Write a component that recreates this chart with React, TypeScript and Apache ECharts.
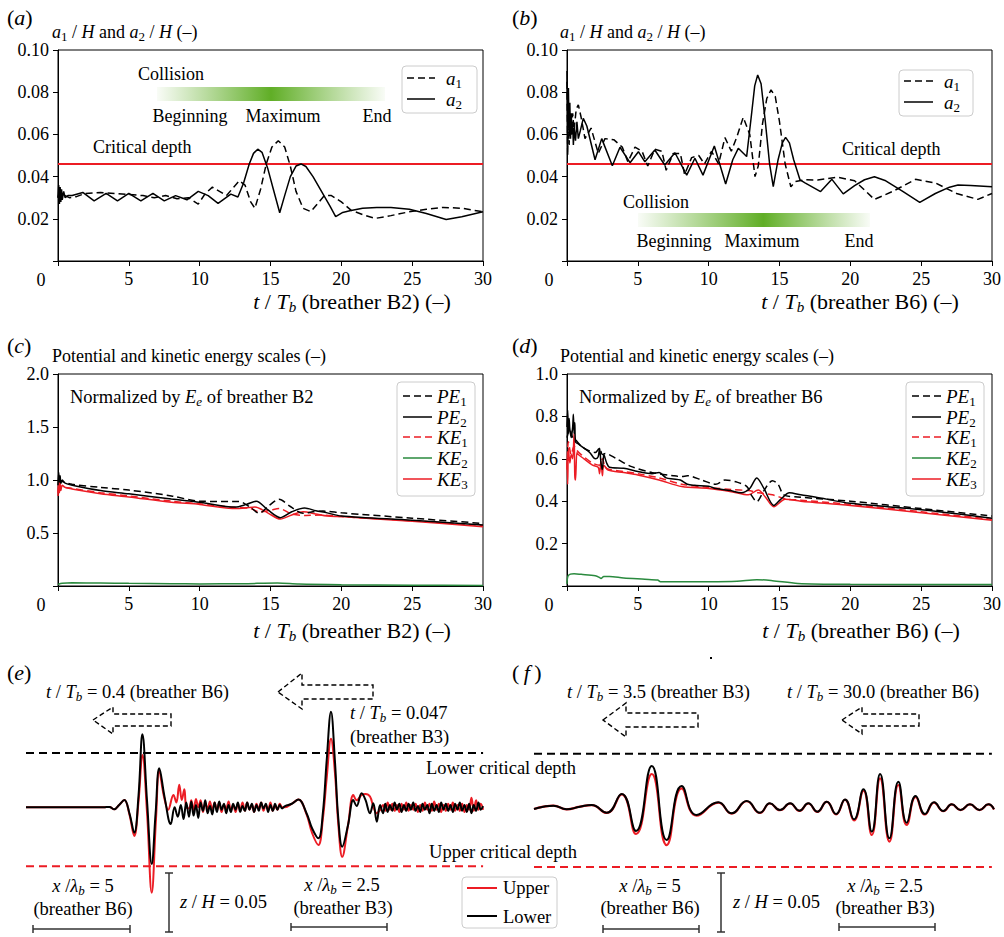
import React, { useEffect, useRef } from "react";
import * as echarts from "echarts";

const FONT = "Liberation Serif";
const RED = "#ec1c24";
const GREEN = "#2a8a3e";

// ---------- Panel (a): breather B2, a1/H (dashed) and a2/H (solid) ----------
const aT1 = [0, 0.1, 0.2, 0.3, 0.5, 0.8, 1.3, 1.9, 3.0, 4.0, 5.0, 6.0, 6.8, 7.6, 8.4, 9.2, 9.9, 10.4, 10.9, 11.4, 11.9, 12.4, 12.8, 13.2, 13.6, 13.9, 14.3, 14.7, 15.1, 15.55, 16.0, 16.4, 16.8, 17.3, 17.85, 18.3, 18.8, 19.3, 20.0, 20.7, 21.5, 22.4, 23.5, 24.7, 26.0, 27.2, 28.5, 30];
const aA1 = [0.030, 0.033, 0.029, 0.031, 0.031, 0.030, 0.0305, 0.032, 0.0325, 0.032, 0.0315, 0.031, 0.030, 0.031, 0.0295, 0.030, 0.027, 0.032, 0.035, 0.033, 0.031, 0.035, 0.038, 0.036, 0.028, 0.025, 0.034, 0.046, 0.054, 0.057, 0.054, 0.045, 0.033, 0.025, 0.0234, 0.027, 0.031, 0.031, 0.028, 0.024, 0.022, 0.0202, 0.0215, 0.0232, 0.0245, 0.0254, 0.025, 0.0233];
const aT2 = [0, 0.05, 0.1, 0.15, 0.2, 0.25, 0.3, 0.4, 0.5, 0.7, 1.0, 1.75, 2.55, 3.4, 4.2, 5.0, 5.85, 6.7, 7.5, 8.3, 9.1, 9.9, 10.6, 11.3, 12.2, 12.7, 13.1, 13.5, 13.8, 14.1, 14.4, 14.8, 15.2, 15.65, 16.0, 16.4, 16.8, 17.15, 17.5, 18.0, 18.6, 19.2, 19.6, 20.1, 20.6, 21.5, 22.5, 23.5, 24.8, 26.0, 27.4, 28.5, 30];
const aA2 = [0.030, 0.036, 0.027, 0.035, 0.028, 0.034, 0.029, 0.033, 0.030, 0.031, 0.031, 0.0325, 0.0285, 0.032, 0.0285, 0.032, 0.0285, 0.032, 0.0285, 0.031, 0.029, 0.033, 0.031, 0.0273, 0.0317, 0.0303, 0.037, 0.046, 0.051, 0.053, 0.0515, 0.044, 0.034, 0.0229, 0.031, 0.040, 0.045, 0.046, 0.0448, 0.040, 0.033, 0.026, 0.021, 0.023, 0.0238, 0.025, 0.0254, 0.0253, 0.0245, 0.0225, 0.0197, 0.021, 0.0233];

// ---------- Panel (b): breather B6 ----------
const bT1 = [0, 0.05, 0.1, 0.15, 0.2, 0.3, 0.4, 0.5, 0.65, 0.8, 1.0, 1.27, 1.7, 2.21, 2.68, 3.3, 3.9, 4.3, 4.8, 5.3, 5.7, 6.2, 6.7, 7.0, 7.5, 8.0, 8.3, 8.8, 9.3, 9.7, 10.2, 10.7, 11.15, 11.6, 12.0, 12.44, 12.9, 13.27, 13.5, 13.8, 14.1, 14.4, 14.7, 15.0, 15.4, 15.8, 16.1, 16.8, 17.7, 19.1, 20.3, 21.7, 23.0, 24.6, 26.0, 27.5, 29.0, 30];
const bA1 = [0.085, 0.050, 0.072, 0.055, 0.066, 0.060, 0.070, 0.062, 0.072, 0.074, 0.068, 0.058, 0.063, 0.051, 0.058, 0.0575, 0.054, 0.047, 0.054, 0.052, 0.045, 0.053, 0.052, 0.043, 0.051, 0.051, 0.041, 0.049, 0.050, 0.046, 0.052, 0.046, 0.0585, 0.052, 0.059, 0.0681, 0.060, 0.040, 0.045, 0.065, 0.077, 0.0811, 0.078, 0.066, 0.046, 0.0352, 0.0376, 0.0385, 0.0384, 0.0397, 0.038, 0.0292, 0.033, 0.0387, 0.037, 0.032, 0.0292, 0.032];
const bT2 = [0, 0.05, 0.1, 0.15, 0.2, 0.25, 0.3, 0.35, 0.4, 0.45, 0.5, 0.6, 0.7, 0.8, 0.95, 1.15, 1.4, 1.98, 2.45, 3.2, 3.74, 4.45, 5.04, 5.5, 6.2, 6.9, 7.62, 8.45, 9.03, 9.6, 10.4, 11.2, 11.7, 12.09, 12.68, 13.0, 13.25, 13.46, 13.7, 14.0, 14.3, 14.56, 14.9, 15.2, 15.43, 15.7, 16.0, 16.45, 16.8, 17.9, 18.7, 19.5, 20.3, 21.0, 21.7, 22.5, 23.7, 24.9, 26.0, 27.0, 27.6, 28.5, 30];
const bA2 = [0.090, 0.065, 0.082, 0.060, 0.075, 0.058, 0.070, 0.060, 0.065, 0.055, 0.063, 0.057, 0.066, 0.058, 0.062, 0.0676, 0.064, 0.048, 0.058, 0.0451, 0.0539, 0.0466, 0.0518, 0.047, 0.0526, 0.0455, 0.0513, 0.0407, 0.0487, 0.0407, 0.0545, 0.0365, 0.048, 0.0534, 0.0495, 0.068, 0.083, 0.0882, 0.084, 0.066, 0.046, 0.0352, 0.048, 0.056, 0.0586, 0.056, 0.048, 0.0384, 0.037, 0.0329, 0.0387, 0.0318, 0.0357, 0.0385, 0.0399, 0.038, 0.033, 0.0278, 0.032, 0.035, 0.036, 0.0358, 0.0352];
const CRITICAL = 0.046;

// ---------- Panel (c): energies, breather B2 ----------
const cT_PE1 = [0, 0.1, 0.3, 1, 3, 5, 8, 10, 12.8, 13.6, 14.2, 14.9, 15.6, 16.4, 17.3, 18.0, 18.7, 20, 25, 30];
const cPE1 = [1.0, 1.0, 0.985, 0.96, 0.93, 0.905, 0.85, 0.80, 0.796, 0.74, 0.686, 0.76, 0.818, 0.75, 0.686, 0.70, 0.707, 0.69, 0.64, 0.59];
const cT_PE2 = [0, 0.05, 0.1, 0.15, 0.2, 0.3, 0.5, 1, 3, 5, 8, 10, 12.5, 13.3, 14.0, 14.8, 15.7, 16.5, 17.4, 18.2, 19, 20, 25, 30];
const cPE2 = [0.95, 1.07, 0.98, 1.04, 0.97, 1.0, 0.97, 0.95, 0.90, 0.87, 0.82, 0.79, 0.745, 0.77, 0.80, 0.72, 0.645, 0.70, 0.735, 0.71, 0.69, 0.66, 0.62, 0.575];
const cT_KE1 = [0, 0.1, 0.2, 0.5, 1, 3, 5, 8, 10, 12.5, 13.5, 14.2, 15.0, 15.6, 16.5, 17.5, 18.5, 20, 25, 30];
const cKE1 = [0.88, 0.98, 0.92, 0.93, 0.92, 0.88, 0.85, 0.80, 0.775, 0.74, 0.735, 0.70, 0.715, 0.73, 0.68, 0.665, 0.67, 0.655, 0.615, 0.57];
const cT_KE2 = [0, 0.3, 1, 3, 5, 8, 10, 13, 15.5, 17, 20, 25, 30];
const cKE2 = [0.015, 0.025, 0.03, 0.028, 0.025, 0.022, 0.02, 0.022, 0.028, 0.018, 0.012, 0.008, 0.005];
const cT_KE3 = [0, 0.05, 0.1, 0.15, 0.2, 0.3, 0.5, 1, 3, 5, 8, 10, 12.5, 13.2, 13.9, 14.8, 15.7, 16.5, 17.3, 18.2, 19, 20, 25, 30];
const cKE3 = [0.85, 1.0, 0.88, 0.97, 0.90, 0.95, 0.93, 0.915, 0.87, 0.84, 0.79, 0.77, 0.73, 0.735, 0.745, 0.69, 0.632, 0.67, 0.70, 0.68, 0.66, 0.655, 0.61, 0.56];

// ---------- Panel (d): energies, breather B6 ----------
const dT_PE1 = [0, 0.2, 0.4, 0.6, 1.0, 1.5, 2.0, 2.3, 2.5, 2.7, 3.5, 4.56, 6.0, 7.5, 8.1, 8.5, 9.5, 10.5, 11.15, 12.0, 12.7, 13.0, 13.4, 13.9, 14.5, 14.9, 15.3, 16.3, 20, 25, 30];
const dPE1 = [0.70, 0.74, 0.70, 0.69, 0.66, 0.64, 0.63, 0.65, 0.62, 0.625, 0.60, 0.563, 0.535, 0.52, 0.516, 0.52, 0.50, 0.48, 0.50, 0.49, 0.469, 0.43, 0.398, 0.45, 0.497, 0.48, 0.43, 0.42, 0.40, 0.365, 0.33];
const dT_PE2 = [0, 0.05, 0.1, 0.15, 0.2, 0.3, 0.4, 0.45, 0.5, 0.55, 0.6, 0.8, 1.2, 1.6, 2.0, 2.2, 2.3, 2.4, 2.5, 2.6, 2.8, 3.0, 4.0, 5.0, 6.0, 6.5, 7.0, 7.5, 8.0, 8.5, 9.0, 10.0, 10.5, 11.5, 12.3, 12.9, 13.4, 13.9, 14.6, 15.1, 15.7, 16.5, 17.5, 20, 25, 30];
const dPE2 = [0.75, 0.83, 0.72, 0.79, 0.74, 0.70, 0.75, 0.81, 0.72, 0.77, 0.68, 0.67, 0.65, 0.63, 0.60, 0.61, 0.65, 0.58, 0.55, 0.62, 0.58, 0.56, 0.555, 0.54, 0.53, 0.535, 0.51, 0.505, 0.50, 0.48, 0.475, 0.47, 0.46, 0.45, 0.44, 0.46, 0.51, 0.46, 0.38, 0.41, 0.44, 0.43, 0.42, 0.39, 0.36, 0.32];
const dT_KE1 = [0, 0.1, 0.3, 0.5, 0.7, 1.0, 1.8, 2.3, 2.5, 2.7, 3.0, 4.0, 5.0, 6.5, 8.1, 10, 11.6, 12.8, 13.5, 14.5, 15.5, 16.5, 20, 25, 30];
const dKE1 = [0.55, 0.68, 0.62, 0.66, 0.64, 0.62, 0.58, 0.57, 0.60, 0.56, 0.55, 0.54, 0.53, 0.51, 0.48, 0.465, 0.455, 0.45, 0.44, 0.43, 0.41, 0.405, 0.385, 0.35, 0.315];
const dT_KE2 = [0, 0.1, 0.5, 1.0, 2.0, 2.3, 2.4, 2.6, 3.0, 4.0, 5.5, 6.4, 6.6, 10, 12, 13.4, 14.5, 16.3, 20, 30];
const dKE2 = [0.01, 0.05, 0.058, 0.055, 0.048, 0.04, 0.035, 0.045, 0.045, 0.038, 0.032, 0.028, 0.02, 0.02, 0.022, 0.03, 0.025, 0.012, 0.008, 0.007];
const dT_KE3 = [0, 0.05, 0.1, 0.2, 0.3, 0.4, 0.5, 0.55, 0.6, 0.7, 0.8, 1.2, 1.8, 2.2, 2.3, 2.4, 2.5, 2.6, 2.9, 4.0, 5.0, 6.5, 8.1, 10, 11.6, 12.8, 13.5, 14.0, 14.6, 15.4, 16.5, 20, 25, 30];
const dKE3 = [0.60, 0.48, 0.65, 0.58, 0.62, 0.60, 0.72, 0.52, 0.50, 0.63, 0.62, 0.60, 0.57, 0.56, 0.53, 0.59, 0.52, 0.57, 0.547, 0.535, 0.524, 0.50, 0.469, 0.46, 0.445, 0.43, 0.453, 0.42, 0.374, 0.409, 0.40, 0.38, 0.345, 0.31];

// ---------- Panel (e): surface profiles (x in lambda_b of B6, z/H) ----------
const eX1 = [0, 4.0, 4.3, 4.55, 4.8, 5.07, 5.33, 5.58, 5.8, 6.0, 6.24, 6.48, 6.68, 6.87, 7.15, 7.46, 7.66, 7.82, 7.98, 8.12, 8.26];
const eZ1Lower = [0, 0, 0.0003, -0.0017, 0.002, 0.0062, -0.005, -0.0215, 0.01, 0.0619, 0.005, -0.048, -0.005, 0.033, 0.008, -0.0142, 0.0, -0.008, 0.002, -0.01, 0.004];
const eX1Upper = [0, 4.0, 4.3, 4.55, 4.8, 5.07, 5.33, 5.58, 5.8, 6.0, 6.24, 6.48, 6.7, 6.87, 7.1, 7.33, 7.6, 7.75, 7.9, 8.03, 8.16, 8.26];
const eZ1Upper = [0, 0, 0.0003, -0.0017, 0.002, 0.0062, -0.006, -0.0243, 0.005, 0.0443, -0.005, -0.0724, -0.01, 0.031, 0.01, -0.002, 0.0105, 0.004, 0.0191, 0.0062, 0.0154, 0.0];
const eNoise1Start = 8.4;
const eNoise1Step = 0.12;
const eNoise1Lower = [-0.008, 0.005, -0.007, 0.002, -0.009, 0.004, -0.003, 0.006, -0.005, 0.001, -0.006, 0.004, -0.004, 0.005, -0.002, 0.003, -0.005, 0.002, -0.004, 0.003, -0.002, 0.004, -0.004, 0.001, -0.003, 0.004, -0.002, 0.003, -0.004, 0.002, -0.003, 0.004, -0.001, 0.003, -0.004, 0.002, -0.003, 0.003, -0.002, 0.002, -0.001];
const eNoise1Upper = [-0.001, 0.006, -0.003, 0.007, 0.0, 0.006, -0.004, 0.003, -0.001, 0.005, -0.003, 0.004, -0.002, 0.004, -0.004, 0.002, -0.001, 0.005, -0.003, 0.002, -0.004, 0.003, -0.002, 0.004, -0.003, 0.004, -0.002, 0.002, -0.004, 0.003, -0.001, 0.004, -0.003, 0.002, -0.002, 0.004, -0.003, 0.001, -0.002, 0.003, 0.0];
const eX2 = [13.35, 13.7, 14.04, 14.46, 14.75, 15.07, 15.3, 15.5, 15.72, 15.92, 16.1, 16.3, 16.6, 16.87, 17.04, 17.3, 17.5, 17.73, 17.9, 18.08, 18.25];
const eZ2Lower = [0.001, 0.003, 0.0066, -0.005, -0.018, -0.0263, -0.005, 0.04, 0.081, 0.04, -0.01, -0.0334, -0.015, 0.0062, 0.0011, 0.0119, 0.0062, -0.005, 0.0034, -0.0122, 0.002];
const eZ2Upper = [0.0, 0.003, 0.0066, -0.006, -0.022, -0.0319, -0.01, 0.025, 0.058, 0.03, -0.015, -0.042, -0.015, 0.0104, 0.006, 0.0104, 0.0113, 0.0091, 0.0006, -0.005, -0.0023];
const eNoise2Start = 18.4;
const eNoise2Step = 0.12;
const eNoise2Lower = [-0.005, 0.003, -0.004, 0.002, -0.003, 0.004, -0.002, 0.003, -0.004, 0.002, -0.003, 0.003, -0.002, 0.004, -0.003, 0.001, -0.004, 0.003, -0.002, 0.002, -0.005, 0.003, -0.003, 0.002, -0.004, 0.004, -0.002, 0.003, -0.003, 0.002, -0.004, 0.003, -0.002, 0.004, -0.003, 0.002, -0.004, 0.003, -0.005, 0.002, -0.003, 0.004, -0.002, 0.001];
const eNoise2Upper = [0.002, -0.003, 0.004, -0.002, 0.003, -0.003, 0.002, -0.004, 0.003, -0.002, 0.004, -0.003, 0.002, -0.002, 0.003, -0.004, 0.002, -0.003, 0.004, -0.002, 0.003, -0.003, 0.005, -0.002, 0.003, -0.004, 0.002, -0.003, 0.003, -0.002, 0.004, -0.003, 0.002, -0.003, 0.003, -0.004, 0.002, -0.002, 0.008, -0.003, 0.006, -0.002, 0.003, -0.002];

// ---------- Panel (f) ----------
const fX = [0, 0.48, 1.0, 1.68, 2.37, 2.97, 3.75, 4.52, 5.26, 6.07, 6.84, 7.61, 8.38, 9.5, 10.19, 10.96, 11.65, 12.16, 12.68, 13.2, 13.68, 14.14, 14.6, 15.09, 15.57, 16.03, 16.49, 16.98, 17.41, 17.84, 18.32, 18.78, 19.21, 19.67, 20.15, 20.62, 21.1, 21.53, 21.99, 22.47, 22.96, 23.42, 23.71];
const fZLower = [-0.0008, 0.0011, 0.002, -0.0011, 0.0011, 0.0025, -0.004, 0.0119, -0.0195, 0.0356, -0.0271, 0.0186, -0.0059, 0.0048, -0.0045, 0.0059, -0.004, 0.004, -0.0017, 0.004, -0.0023, 0.004, -0.0031, 0.0054, -0.0051, 0.0073, -0.0096, 0.0158, -0.02, 0.0288, -0.0257, 0.0223, -0.0124, 0.0102, -0.0051, 0.0048, -0.0025, 0.0031, -0.0017, 0.0031, -0.0017, 0.0031, -0.0011];
const fZUpper = [-0.0008, 0.0011, 0.002, -0.0011, 0.0011, 0.0025, -0.0042, 0.0115, -0.022, 0.0288, -0.0314, 0.0167, -0.0065, 0.0046, -0.0047, 0.0057, -0.0042, 0.0038, -0.0019, 0.0038, -0.0025, 0.0038, -0.0033, 0.0052, -0.0054, 0.007, -0.0105, 0.0148, -0.0229, 0.0251, -0.0285, 0.0195, -0.0144, 0.0095, -0.0055, 0.0046, -0.0027, 0.003, -0.0018, 0.003, -0.0018, 0.003, -0.0012];
const LOWER_CRIT = 0.046;
const UPPER_CRIT = -0.05;
const PROFILE_X_END = [23.56, 23.6];

// ---------- helpers ----------
const zip = (xs: number[], ys: number[]) => xs.map((x, i) => [x, ys[i]]);
const noise = (start: number, step: number, zs: number[]) => zs.map((z, i) => [+(start + i * step).toFixed(3), z]);

const rich = (F: number, fill = "#000") => ({
  n: { fontFamily: FONT, fontSize: F, lineHeight: Math.round(F * 1.2), fill },
  i: { fontFamily: FONT, fontSize: F, fontStyle: "italic", lineHeight: Math.round(F * 1.2), fill },
  s: { fontFamily: FONT, fontSize: Math.round(F * 0.7), lineHeight: Math.round(F * 0.72), verticalAlign: "bottom", fill },
  si: { fontFamily: FONT, fontSize: Math.round(F * 0.7), fontStyle: "italic", lineHeight: Math.round(F * 0.72), verticalAlign: "bottom", fill },
});

const label = (x: number, y: number, text: string, size: number, align = "left") => ({
  type: "text",
  x,
  y,
  z: 100,
  silent: true,
  style: { text, align, verticalAlign: "middle", fontFamily: FONT, fontSize: size, fill: "#000", rich: rich(size) },
});

const gline = (x1: number, y1: number, x2: number, y2: number, stroke = "#000", lineWidth = 1.5, lineDash?: number[]) => ({
  type: "line",
  z: 100,
  silent: true,
  shape: { x1, y1, x2, y2 },
  style: { stroke, lineWidth, lineDash },
});

const arrow = (pts: number[][]) => ({
  type: "polygon",
  z: 100,
  silent: true,
  shape: { points: pts },
  style: { fill: "none", stroke: "#000", lineWidth: 1.4, lineDash: [5, 3] },
});

const hbar = (x1: number, x2: number, y: number) => [
  gline(x1, y, x2, y, "#333", 1.5),
  gline(x1, y - 4, x1, y + 4, "#333", 1.5),
  gline(x2, y - 4, x2, y + 4, "#333", 1.5),
];
const vbar = (x: number, y1: number, y2: number) => [
  gline(x, y1, x, y2, "#333", 1.5),
  gline(x - 4, y1, x + 4, y1, "#333", 1.5),
  gline(x - 4, y2, x + 4, y2, "#333", 1.5),
];

const legendBox = (x: number, y: number, w: number, h: number) => ({
  type: "rect",
  z: 99,
  silent: true,
  shape: { x, y, width: w, height: h, r: 4 },
  style: { fill: "rgba(255,255,255,0.85)", stroke: "#cccccc", lineWidth: 1 },
});

const gradientBar = (x: number, y: number, w: number, h: number, mid: number) => ({
  type: "rect",
  z: 98,
  silent: true,
  shape: { x, y, width: w, height: h },
  style: {
    fill: new echarts.graphic.LinearGradient(0, 0, 1, 0, [
      { offset: 0, color: "rgba(104,178,48,0.04)" },
      { offset: mid, color: "rgba(96,174,38,1)" },
      { offset: 1, color: "rgba(104,178,48,0.04)" },
    ]),
  },
});

const DASH = [7, 4];
const series = (gi: number, data: any[], color: string, dashed = false, width = 1.5, smooth: any = false, z = 2) => ({
  type: "line",
  xAxisIndex: gi,
  yAxisIndex: gi,
  data,
  showSymbol: false,
  symbol: "none",
  smooth,
  silent: true,
  z,
  lineStyle: { color, width, type: dashed ? DASH : "solid" },
});

const tickAxis = (min: number, max: number, interval: number, digits: number) => ({
  type: "value",
  min,
  max,
  interval,
  axisLine: { show: true, lineStyle: { color: "#000", width: 1 } },
  axisTick: { show: true, inside: false, length: 5, lineStyle: { color: "#000", width: 1 } },
  axisLabel: {
    fontFamily: FONT,
    fontSize: 18,
    color: "#000",
    margin: 9,
    formatter: (v: number) => (Math.abs(v) < 1e-9 ? "" : v.toFixed(digits)),
  },
  splitLine: { show: false },
});
const hiddenAxis = (min: number, max: number) => ({
  type: "value",
  min,
  max,
  show: false,
  splitLine: { show: false },
});

export default function App() {
  const ref = useRef<HTMLDivElement>(null);
  useEffect(() => {
    if (!ref.current) return;
    const chart = echarts.init(ref.current, null, { renderer: "svg" });

    const frame = { show: true, borderColor: "#000", borderWidth: 1, backgroundColor: "transparent" };
    const grid = [
      { left: 58, top: 50, width: 425, height: 211, ...frame },
      { left: 567, top: 50, width: 425, height: 211, ...frame },
      { left: 58, top: 374, width: 425, height: 212, ...frame },
      { left: 567, top: 374, width: 425, height: 212, ...frame },
      { left: 26, top: 701.1, width: 460, height: 200.6, show: false },
      { left: 534, top: 701.8, width: 460, height: 200.6, show: false },
    ];
    const xAxis: any[] = [0, 1, 2, 3].map((g) => ({ ...tickAxis(0, 30, 5, 0), gridIndex: g }));
    xAxis.push({ ...hiddenAxis(0, 23.71), gridIndex: 4 }, { ...hiddenAxis(0, 23.71), gridIndex: 5 });
    const yAxis: any[] = [
      { ...tickAxis(0, 0.1, 0.02, 2), gridIndex: 0 },
      { ...tickAxis(0, 0.1, 0.02, 2), gridIndex: 1 },
      { ...tickAxis(0, 2.0, 0.5, 1), gridIndex: 2 },
      { ...tickAxis(0, 1.0, 0.2, 1), gridIndex: 3 },
      { ...hiddenAxis(-0.08, 0.09), gridIndex: 4 },
      { ...hiddenAxis(-0.08, 0.09), gridIndex: 5 },
    ];

    const eLower = [...zip(eX1, eZ1Lower), ...noise(eNoise1Start, eNoise1Step, eNoise1Lower), ...zip(eX2, eZ2Lower), ...noise(eNoise2Start, eNoise2Step, eNoise2Lower)];
    const eUpper = [...zip(eX1Upper, eZ1Upper), ...noise(eNoise1Start, eNoise1Step, eNoise1Upper), ...zip(eX2, eZ2Upper), ...noise(eNoise2Start, eNoise2Step, eNoise2Upper)];

    const critDash = (gi: number, xEnd: number, v: number, color: string) => ({
      ...series(gi, [[0, v], [xEnd, v]], color, false, 2),
      lineStyle: { color, width: 2, type: [8, 5] },
    });

    const allSeries: any[] = [
      // (a)
      series(0, [[0, CRITICAL], [30, CRITICAL]], RED, false, 2),
      series(0, zip(aT1, aA1), "#000", true),
      series(0, zip(aT2, aA2), "#000", false),
      // (b)
      series(1, [[0, CRITICAL], [30, CRITICAL]], RED, false, 2),
      series(1, zip(bT1, bA1), "#000", true),
      series(1, zip(bT2, bA2), "#000", false),
      // (c)
      series(2, zip(cT_KE2, cKE2), GREEN, false, 1.5, 0.3),
      series(2, zip(cT_KE3, cKE3), RED, false, 1.5, 0.3),
      series(2, zip(cT_KE1, cKE1), RED, true, 1.5, 0.3),
      series(2, zip(cT_PE1, cPE1), "#000", true, 1.5, 0.3),
      series(2, zip(cT_PE2, cPE2), "#000", false, 1.5, 0.3),
      // (d)
      series(3, zip(dT_KE2, dKE2), GREEN, false, 1.5, 0.3),
      series(3, zip(dT_KE3, dKE3), RED, false, 1.5, 0.3),
      series(3, zip(dT_KE1, dKE1), RED, true, 1.5, 0.3),
      series(3, zip(dT_PE1, dPE1), "#000", true, 1.5, 0.3),
      series(3, zip(dT_PE2, dPE2), "#000", false, 1.5, 0.3),
      // (e)
      critDash(4, PROFILE_X_END[0], LOWER_CRIT, "#000"),
      critDash(4, PROFILE_X_END[0], UPPER_CRIT, RED),
      series(4, eUpper, RED, false, 2, 0.4),
      series(4, eLower, "#000", false, 2, 0.4, 3),
      // (f)
      critDash(5, PROFILE_X_END[1], LOWER_CRIT, "#000"),
      critDash(5, PROFILE_X_END[1], UPPER_CRIT, RED),
      series(5, zip(fX, fZUpper), RED, false, 2.2, true),
      series(5, zip(fX, fZLower), "#000", false, 2, true, 3),
    ];

    const yTitle = "{i|a}{s|1}{n| / }{i|H}{n| and }{i|a}{s|2}{n| / }{i|H}{n| (–)}";
    const xTitle = (b: string) => `{i|t}{n| / }{i|T}{si|b}{n| (breather ${b}) (–)}`;
    const eTitle = "{n|Potential and kinetic energy scales (–)}";
    const norm = (b: string) => `{n|Normalized by }{i|E}{si|e}{n| of breather ${b}}`;
    const tT = (v: string, b: string) => `{i|t}{n| / }{i|T}{si|b}{n| = ${v} (breather ${b})}`;
    const xl = (v: string) => `{i|x}{n| /}{i|λ}{si|b}{n| = ${v}}`;
    const zl = "{i|z}{n| / }{i|H}{n| = 0.05}";

    const graphic: any[] = [
      // panel letters
      label(7, 17, "{n|(}{i|a}{n|)}", 22),
      label(512, 17, "{n|(}{i|b}{n|)}", 22),
      label(7, 345, "{n|(}{i|c}{n|)}", 22),
      label(512, 345, "{n|(}{i|d}{n|)}", 22),
      label(7, 672, "{n|(}{i|e}{n|)}", 22),
      label(512, 672, "{n|(\u2009}{i|f}{n|\u2009)}", 22),
      // y titles
      label(52, 32, yTitle, 18),
      label(560, 32, yTitle, 18),
      label(52, 356, eTitle, 18),
      label(560, 356, eTitle, 18),
      // corner zeros
      label(41, 280, "{n|0}", 18, "center"),
      label(549, 280, "{n|0}", 18, "center"),
      label(41, 605, "{n|0}", 18, "center"),
      label(549, 605, "{n|0}", 18, "center"),
      // x titles
      label(352, 301, xTitle("B2"), 22, "center"),
      label(860, 301, xTitle("B6"), 22, "center"),
      label(352, 630, xTitle("B2"), 22, "center"),
      label(861, 630, xTitle("B6"), 22, "center"),
      // (a) annotations
      label(138, 74, "{n|Collision}", 18),
      gradientBar(157, 87, 228, 14, 0.5),
      label(190, 116, "{n|Beginning}", 18, "center"),
      label(283, 116, "{n|Maximum}", 18, "center"),
      label(377, 116, "{n|End}", 18, "center"),
      label(93, 147, "{n|Critical depth}", 18),
      legendBox(402, 66, 75, 47),
      gline(407, 78, 435, 78, "#000", 1.5, DASH),
      gline(407, 99, 435, 99, "#000", 1.5),
      label(446, 78, "{i|a}{s|1}", 19),
      label(446, 99, "{i|a}{s|2}", 19),
      // (b) annotations
      label(842, 149, "{n|Critical depth}", 18),
      label(623, 202, "{n|Collision}", 18),
      gradientBar(638, 213, 232, 14, 0.54),
      label(674, 241, "{n|Beginning}", 18, "center"),
      label(762, 241, "{n|Maximum}", 18, "center"),
      label(859, 241, "{n|End}", 18, "center"),
      legendBox(899, 70, 74, 46),
      gline(904, 81, 933, 81, "#000", 1.5, DASH),
      gline(904, 102, 933, 102, "#000", 1.5),
      label(944, 81, "{i|a}{s|1}", 19),
      label(944, 102, "{i|a}{s|2}", 19),
      // (c)
      label(70, 397, norm("B2"), 18.5),
      legendBox(397, 382, 78, 114),
      gline(403, 396, 432, 396, "#000", 1.5, DASH),
      gline(403, 417, 432, 417, "#000", 1.5),
      gline(403, 437, 432, 437, RED, 1.5, DASH),
      gline(403, 458, 432, 458, GREEN, 1.5),
      gline(403, 479, 432, 479, RED, 1.5),
      label(437, 396, "{i|PE}{s|1}", 19),
      label(437, 417, "{i|PE}{s|2}", 19),
      label(437, 437, "{i|KE}{s|1}", 19),
      label(437, 458, "{i|KE}{s|2}", 19),
      label(437, 479, "{i|KE}{s|3}", 19),
      // (d)
      label(579, 397, norm("B6"), 18.5),
      legendBox(906, 382, 78, 114),
      gline(912, 396, 941, 396, "#000", 1.5, DASH),
      gline(912, 417, 941, 417, "#000", 1.5),
      gline(912, 437, 941, 437, RED, 1.5, DASH),
      gline(912, 458, 941, 458, GREEN, 1.5),
      gline(912, 479, 941, 479, RED, 1.5),
      label(946, 396, "{i|PE}{s|1}", 19),
      label(946, 417, "{i|PE}{s|2}", 19),
      label(946, 437, "{i|KE}{s|1}", 19),
      label(946, 458, "{i|KE}{s|2}", 19),
      label(946, 479, "{i|KE}{s|3}", 19),
      // (e)
      label(46, 692, tT("0.4", "B6"), 18.5),
      arrow([[93, 720], [113, 707], [113, 714], [171, 714], [171, 726], [113, 726], [113, 734]]),
      arrow([[278, 692], [302, 673], [302, 685], [373, 685], [373, 699], [302, 699], [302, 709]]),
      label(350, 713, "{i|t}{n| / }{i|T}{si|b}{n| = 0.047}", 18.5),
      label(350, 737, "{n|(breather B3)}", 18.5),
      label(501, 768, "{n|Lower critical depth}", 18.5, "center"),
      label(503, 852, "{n|Upper critical depth}", 18.5, "center"),
      label(83, 886, xl("5"), 18.5, "center"),
      label(83, 909, "{n|(breather B6)}", 18.5, "center"),
      ...hbar(33, 130, 929),
      ...vbar(169, 873, 932),
      label(180, 902, zl, 18.5),
      label(342, 885, xl("2.5"), 18.5, "center"),
      label(343, 908, "{n|(breather B3)}", 18.5, "center"),
      ...hbar(291, 387, 927),
      legendBox(462, 877, 95, 51),
      gline(467, 888, 497, 888, RED, 2),
      gline(467, 916, 497, 916, "#000", 2),
      label(503, 888, "{n|Upper}", 18.5),
      label(503, 917, "{n|Lower}", 18.5),
      // (f)
      label(567, 692, tT("3.5", "B3"), 18.5),
      label(787, 692, tT("30.0", "B6"), 18.5),
      arrow([[603, 720], [626, 703], [626, 713], [698, 713], [698, 727], [626, 727], [626, 737]]),
      arrow([[842, 720], [862, 707], [862, 714], [919, 714], [919, 726], [862, 726], [862, 734]]),
      label(650, 886, xl("5"), 18.5, "center"),
      label(650, 908, "{n|(breather B6)}", 18.5, "center"),
      ...hbar(603, 699, 929),
      ...vbar(721, 873, 932),
      label(733, 902, zl, 18.5),
      label(885, 886, xl("2.5"), 18.5, "center"),
      label(885, 908, "{n|(breather B3)}", 18.5, "center"),
      ...hbar(839, 935, 927),
      { type: "rect", z: 100, silent: true, shape: { x: 710, y: 657, width: 2, height: 2 }, style: { fill: "#000" } },
    ];

    chart.setOption({
      animation: false,
      backgroundColor: "#fff",
      grid,
      xAxis,
      yAxis,
      series: allSeries,
      graphic,
    });
    return () => chart.dispose();
  }, []);

  return <div ref={ref} style={{ position: "absolute", left: 0, top: 0, width: 1004, height: 937 }} />;
}
